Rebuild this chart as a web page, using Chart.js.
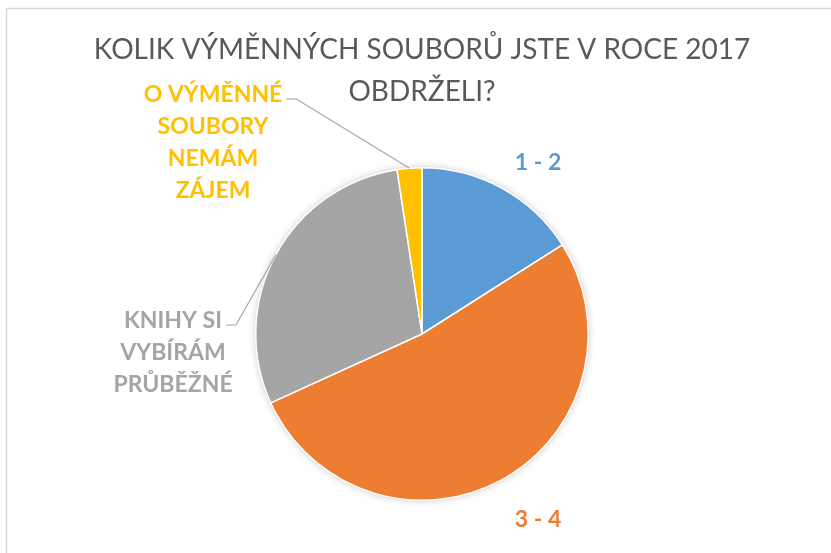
<!DOCTYPE html>
<html>
<head>
<meta charset="utf-8">
<script src="https://cdn.jsdelivr.net/npm/chart.js@4.4.0/dist/chart.umd.min.js"></script>
<style>
  html, body { margin: 0; padding: 0; background: #fff; }
  #wrap { width: 831px; height: 553px; }
</style>
</head>
<body>
<div id="wrap"><canvas id="pieChart"></canvas></div>
<script>
// data
const categories = [
    ["1 - 2"],
    ["3 - 4"],
    ["KNIHY SI", "VYBÍRÁM", "PRŮBĚŽNÉ"],
    ["O VÝMĚNNÉ", "SOUBORY", "NEMÁM", "ZÁJEM"]
];
const shares = [16, 52.2, 29.4, 2.4];
const titleLines = ["KOLIK VÝMĚNNÝCH SOUBORŮ JSTE V ROCE 2017", "OBDRŽELI?"];

// styles
const sliceColors = ['#5B9BD5', '#ED7D31', '#A5A5A5', '#FFC000'];
const labelSpots = [
    {x: 538, y: 163},
    {x: 538, y: 520},
    {x: 173, y: 353, leader: true},
    {x: 213, y: 143, leader: true}
];
const lineGap = 32;

//////////////// frame + shadow + outside labels

const frame = {
    id: 'frame',
    beforeDraw(chart) {
        const ctx = chart.ctx;
        ctx.save();
        ctx.fillStyle = '#fff';
        ctx.fillRect(0, 0, chart.width, chart.height);
        ctx.strokeStyle = '#D9D9D9';
        ctx.lineWidth = 1.5;
        ctx.beginPath();
        ctx.moveTo(6.5, chart.height);
        ctx.lineTo(6.5, 8.5);
        ctx.lineTo(chart.width, 8.5);
        ctx.stroke();
        ctx.restore();
    }
};

const outsideLabels = {
    id: 'outsideLabels',
    beforeDatasetsDraw(chart) {
        const arc = chart.getDatasetMeta(0).data[0];
        const ctx = chart.ctx;
        ctx.save();
        ctx.shadowColor = 'rgba(0,0,0,0.3)';
        ctx.shadowBlur = 8;
        ctx.fillStyle = '#fff';
        ctx.beginPath();
        ctx.arc(arc.x, arc.y, arc.outerRadius - 1, 0, Math.PI * 2);
        ctx.fill();
        ctx.restore();
    },
    afterDatasetsDraw(chart) {
        const ctx = chart.ctx;
        const meta = chart.getDatasetMeta(0);
        ctx.save();
        ctx.font = 'bold 23px Lato';
        ctx.textAlign = 'center';
        ctx.textBaseline = 'middle';
        meta.data.forEach(function(arc, i) {
            const spot = labelSpots[i];
            const lines = chart.data.labels[i];
            const top = spot.y - (lines.length - 1) * lineGap / 2;
            ctx.fillStyle = sliceColors[i];
            lines.forEach(function(t, k) {
                ctx.fillText(t, spot.x, top + k * lineGap);
            });
            if (spot.leader) {
                const mid = (arc.startAngle + arc.endAngle) / 2;
                const ex = arc.x + Math.cos(mid) * arc.outerRadius;
                const ey = arc.y + Math.sin(mid) * arc.outerRadius;
                const sx = spot.x + ctx.measureText(lines[0]).width / 2 + 4;
                const sy = top + 4;
                ctx.strokeStyle = '#A6A6A6';
                ctx.lineWidth = 1.2;
                ctx.beginPath();
                ctx.moveTo(sx, sy);
                ctx.lineTo(sx + 10, sy);
                ctx.lineTo(ex, ey);
                ctx.stroke();
            }
        });
        ctx.restore();
    }
};

//////////////// chart

const pieChart = new Chart(document.getElementById('pieChart'), {
    type: 'pie',
    data: {
        labels: categories,
        datasets: [{
            data: shares,
            backgroundColor: sliceColors,
            borderColor: '#fff',
            borderWidth: 1.5
        }]
    },
    options: {
        responsive: true,
        maintainAspectRatio: false,
        animation: false,
        layout: {
            padding: {left: 13, right: 0, top: 0, bottom: 52}
        },
        plugins: {
            legend: {display: false},
            tooltip: {enabled: false},
            title: {
                display: true,
                text: titleLines,
                color: '#595959',
                font: {family: 'Lato', size: 28, weight: 'normal', lineHeight: 1.5},
                padding: {top: 29, bottom: 54}
            }
        }
    },
    plugins: [frame, outsideLabels]
});
</script>
</body>
</html>
